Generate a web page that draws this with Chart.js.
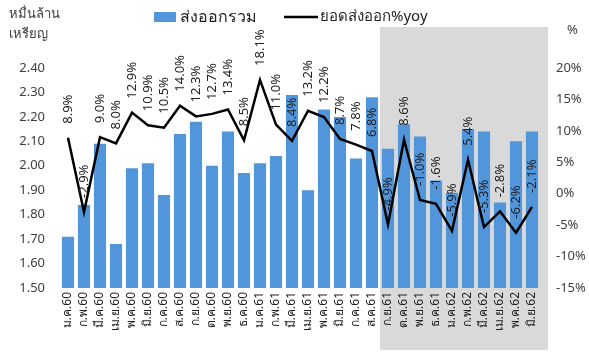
<!DOCTYPE html>
<html>
<head>
<meta charset="utf-8">
<script src="https://cdn.jsdelivr.net/npm/chart.js@4/dist/chart.umd.min.js"></script>
<style>
  html, body { margin: 0; padding: 0; background: #fff; }
  #wrap { width: 589px; height: 356px; position: relative; }
</style>
</head>
<body>
<div id="wrap"><canvas id="c" width="589" height="356"></canvas></div>
<script>
// Monthly export categories (Thai month abbreviations, Buddhist-era years)
const categories = ['ม.ค.60','ก.พ.60','มี.ค.60','เม.ย.60','พ.ค.60','มิ.ย.60','ก.ค.60','ส.ค.60','ก.ย.60','ต.ค.60','พ.ย.60','ธ.ค.60',
                    'ม.ค.61','ก.พ.61','มี.ค.61','เม.ย.61','พ.ค.61','มิ.ย.61','ก.ค.61','ส.ค.61','ก.ย.61','ต.ค.61','พ.ย.61','ธ.ค.61',
                    'ม.ค.62','ก.พ.62','มี.ค.62','เม.ย.62','พ.ค.62','มิ.ย.62'];
// Total exports (10 billion USD)
const exportTotal = [1.71,1.84,2.09,1.68,1.99,2.01,1.88,2.13,2.18,2.00,2.14,1.97,
                     2.01,2.04,2.29,1.90,2.23,2.20,2.03,2.28,2.07,2.17,2.12,1.94,
                     1.89,2.15,2.14,1.85,2.10,2.14];
// Export growth, % year on year
const exportYoY = [8.9,-2.9,9.0,8.0,12.9,10.9,10.5,14.0,12.3,12.7,13.4,8.5,
                   18.1,11.0,8.4,13.2,12.2,8.7,7.8,6.8,-4.9,8.6,-1.0,-1.6,
                   -5.9,5.4,-5.3,-2.8,-6.2,-2.1];
// Left axis ticks (10 billion USD) and right axis ticks (%)
const leftTicks = [1.5, 2.4, 0.1];
const rightTicks = [-15, 20, 5];
// First month of the highlighted period
const shadeStart = 'ก.ย.61';

const FONT = "'Noto Sans', 'DejaVu Sans', sans-serif";
const BAR_COLOR = '#5195db';
const TEXT = '#404040';

const shadePlugin = {
  id: 'shade',
  beforeDraw(chart) {
    const x = chart.scales.x;
    const i0 = categories.indexOf(shadeStart);
    const step = x.getPixelForValue(1) - x.getPixelForValue(0);
    const left = x.getPixelForValue(i0) - step / 2;
    const right = x.getPixelForValue(categories.length - 1) + step;
    const ctx = chart.ctx;
    ctx.save();
    ctx.fillStyle = '#d9d9d9';
    ctx.fillRect(left, 27, right - left, 323);
    ctx.restore();
  }
};

const labelPlugin = {
  id: 'yoyLabels',
  afterDatasetsDraw(chart) {
    const meta = chart.getDatasetMeta(1);
    const ctx = chart.ctx;
    ctx.save();
    ctx.font = '13px ' + FONT;
    ctx.fillStyle = '#222';
    ctx.textAlign = 'left';
    ctx.textBaseline = 'middle';
    meta.data.forEach((pt, i) => {
      ctx.save();
      ctx.translate(pt.x, pt.y - 14);
      ctx.rotate(-Math.PI / 2);
      ctx.fillText(exportYoY[i].toFixed(1) + '%', 0, 0);
      ctx.restore();
    });
    ctx.restore();
  }
};

const titlePlugin = {
  id: 'titles',
  afterDraw(chart) {
    const ctx = chart.ctx;
    ctx.save();
    ctx.fillStyle = TEXT;
    ctx.textBaseline = 'middle';
    // axis titles
    ctx.font = '13px ' + FONT;
    ctx.textAlign = 'left';
    ctx.fillText('หมื่นล้าน', 9, 14);
    ctx.fillText('เหรียญ', 9, 34);
    ctx.fillText('%', 567, 30);
    // legend
    ctx.fillStyle = BAR_COLOR;
    ctx.fillRect(154, 12, 22, 10);
    ctx.strokeStyle = '#000';
    ctx.lineWidth = 2.5;
    ctx.beginPath();
    ctx.moveTo(284, 17);
    ctx.lineTo(318, 17);
    ctx.stroke();
    ctx.fillStyle = '#222';
    ctx.font = '16px ' + FONT;
    ctx.fillText('ส่งออกรวม', 180, 17);
    ctx.font = '15px ' + FONT;
    ctx.fillText('ยอดส่งออก%yoy', 320, 17);
    ctx.restore();
  }
};

new Chart(document.getElementById('c'), {
  data: {
    labels: categories,
    datasets: [
      {
        type: 'bar',
        label: 'ส่งออกรวม',
        data: exportTotal,
        backgroundColor: BAR_COLOR,
        yAxisID: 'y',
        categoryPercentage: 0.76,
        barPercentage: 1.0,
        order: 2
      },
      {
        type: 'line',
        label: 'ยอดส่งออก%yoy',
        data: exportYoY,
        borderColor: '#000',
        borderWidth: 2.5,
        pointRadius: 0,
        tension: 0,
        yAxisID: 'y1',
        order: 1
      }
    ]
  },
  options: {
    responsive: false,
    animation: false,
    layout: { padding: { top: 68, left: 0, right: 0, bottom: 0 } },
    plugins: { legend: { display: false }, tooltip: { enabled: false } },
    scales: {
      x: {
        offset: true,
        grid: { display: false, drawTicks: false },
        border: { display: false },
        ticks: {
          autoSkip: false, maxRotation: 90, minRotation: 90, padding: 4,
          color: '#222', font: { family: FONT, size: 12 }
        },
        afterFit(s) { s.height = 68; }
      },
      y: {
        position: 'left',
        min: leftTicks[0], max: leftTicks[1],
        grid: { display: false, drawTicks: false },
        border: { display: false },
        ticks: {
          stepSize: leftTicks[2], padding: 15, color: TEXT,
          font: { family: FONT, size: 13 },
          callback: v => v.toFixed(2)
        },
        afterFit(s) { s.width = 60; }
      },
      y1: {
        position: 'right',
        min: rightTicks[0], max: rightTicks[1],
        grid: { display: false, drawTicks: false },
        border: { display: false },
        ticks: {
          stepSize: rightTicks[2], padding: 16, color: TEXT,
          font: { family: FONT, size: 13 },
          callback: v => v + '%'
        },
        afterFit(s) { s.width = 49; }
      }
    }
  },
  plugins: [shadePlugin, labelPlugin, titlePlugin]
});
</script>
</body>
</html>
